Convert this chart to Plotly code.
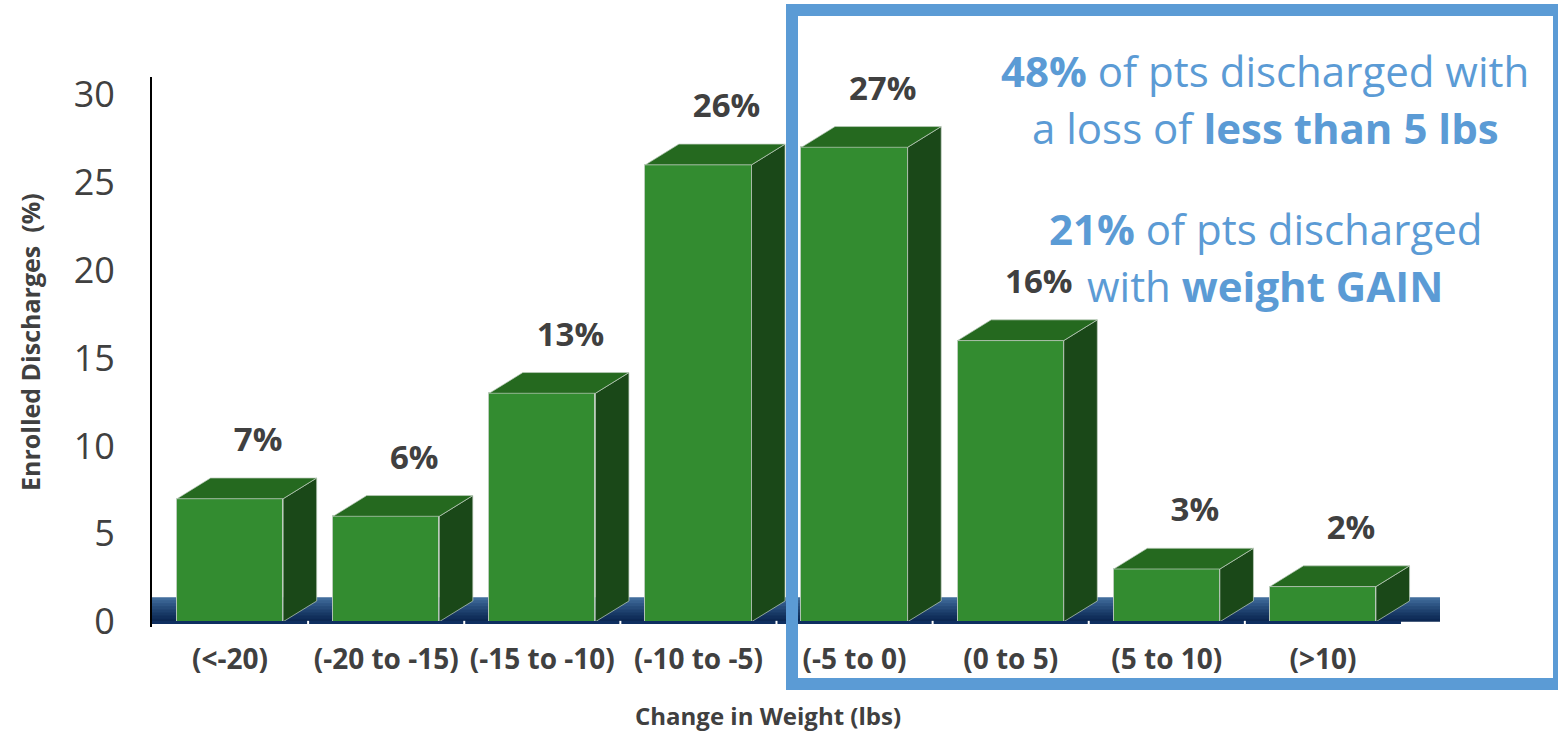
import plotly.graph_objects as go

# ---- data -------------------------------------------------------------
categories = ["(<-20)", "(-20 to -15)", "(-15 to -10)", "(-10 to -5)",
              "(-5 to 0)", "(0 to 5)", "(5 to 10)", "(>10)"]
pct_discharges = [7, 6, 13, 26, 27, 16, 3, 2]
y_ticks = [0, 5, 10, 15, 20, 25, 30]

# ---- geometry / style -------------------------------------------------
W, H = 1558, 736
PL, PR, PT, PB = 152, 1440, 77, 627          # plot area in pixels
X_RANGE = [-0.5, 7.75]
Y_RANGE = [-0.3, 31.0]
HALF_W = 0.34          # half width of the front face (category units)
DX, DY = 0.215, 1.18   # 3-D depth offset (x in categories, y in %)

FRONT = "#338C30"
TOP = "#25691F"
SIDE = "#1A4818"
EDGE = "rgba(190,205,190,0.9)"
TEXT = "#404040"
ACCENT = "#5B9BD5"
FONT = "Open Sans"


def px_x(px):
    return (px - PL) / (PR - PL)


def px_y(py):
    return (PB - py) / (PB - PT)


idx = list(range(len(categories)))
fig = go.Figure()

# front faces
fig.add_trace(go.Bar(
    x=idx, y=pct_discharges, width=2 * HALF_W,
    marker=dict(color=FRONT, line=dict(color=EDGE, width=1)),
    hoverinfo="skip", showlegend=False,
))

# side and top faces for the 3-D look
for i, v in zip(idx, pct_discharges):
    xl, xr = i - HALF_W, i + HALF_W
    fig.add_trace(go.Scatter(
        x=[xr, xr + DX, xr + DX, xr, xr],
        y=[0, DY, v + DY, v, 0],
        fill="toself", fillcolor=SIDE, mode="lines",
        line=dict(color=EDGE, width=0.8),
        hoverinfo="skip", showlegend=False,
    ))
    fig.add_trace(go.Scatter(
        x=[xl, xl + DX, xr + DX, xr, xl],
        y=[v, v + DY, v + DY, v, v],
        fill="toself", fillcolor=TOP, mode="lines",
        line=dict(color=EDGE, width=0.8),
        hoverinfo="skip", showlegend=False,
    ))

# value labels above each bar
fig.add_trace(go.Scatter(
    x=[i + 0.18 for i in idx],
    y=[v + DY + 2.0 for v in pct_discharges],
    text=[f"{v}%" for v in pct_discharges],
    mode="text",
    textfont=dict(family=FONT, size=33, color=TEXT, weight="bold"),
    cliponaxis=False, hoverinfo="skip", showlegend=False,
))

shapes = []
# floor slab with a vertical gradient (bands overlap to avoid seams)
floor_cols = ["#416c9b", "#37608f", "#2e5584", "#264b79", "#1e416e",
              "#173864", "#112f5b", "#0c2853"]
floor_top = 1.4
n = len(floor_cols)
step = floor_top / n
for k, c in enumerate(floor_cols):
    y1 = floor_top - k * step
    y0 = max(0.0, y1 - step * 1.6)
    shapes.append(dict(type="rect", xref="x", yref="y", x0=-0.5, x1=7.75,
                       y0=y0, y1=y1, fillcolor=c, line=dict(width=0),
                       layer="below"))
# baseline under the floor with category separators
shapes.append(dict(type="line", xref="x", yref="y", x0=-0.5, x1=7.5,
                   y0=-0.05, y1=-0.05, line=dict(color="#0F2F60", width=3)))
for b in range(len(categories) - 1):
    shapes.append(dict(type="line", xref="x", yref="y", x0=b + 0.5, x1=b + 0.5,
                       y0=-0.3, y1=0.05, line=dict(color="white", width=2)))
# highlight box
shapes.append(dict(type="rect", xref="paper", yref="paper",
                   x0=px_x(792), x1=px_x(1559), y0=px_y(684), y1=px_y(10),
                   line=dict(color=ACCENT, width=12), fillcolor="rgba(0,0,0,0)",
                   layer="above"))

annotations = []
box_lines = [
    ("<b>48%</b> of pts discharged with", 70),
    ("a loss of <b>less than 5 lbs</b>", 127),
    ("<b>21%</b> of pts discharged", 228),
    ("with <b>weight GAIN</b>", 285),
]
for txt, py in box_lines:
    annotations.append(dict(
        text=txt, xref="paper", yref="paper", x=px_x(1265), y=px_y(py),
        xanchor="center", yanchor="middle", showarrow=False,
        font=dict(family=FONT, size=42, color=ACCENT),
    ))

annotations.append(dict(
    text="<b>Enrolled Discharges\u00a0\u00a0(%)</b>", xref="paper", yref="paper",
    x=px_x(30), y=px_y(342), xanchor="center", yanchor="middle",
    textangle=-90, showarrow=False,
    font=dict(family=FONT, size=25, color=TEXT),
))
annotations.append(dict(
    text="<b>Change in Weight (lbs)</b>", xref="paper", yref="paper",
    x=px_x(768), y=px_y(715), xanchor="center", yanchor="middle",
    showarrow=False, font=dict(family=FONT, size=24, color=TEXT),
))

fig.update_layout(
    width=W, height=H,
    margin=dict(l=PL, r=W - PR, t=PT, b=H - PB, pad=0),
    paper_bgcolor="white", plot_bgcolor="white",
    bargap=0, shapes=shapes, annotations=annotations,
    xaxis=dict(range=X_RANGE, tickmode="array", tickvals=idx,
               ticktext=categories, showgrid=False, zeroline=False,
               showline=False, ticks="", ticklabelstandoff=13,
               tickfont=dict(family=FONT, size=28, color=TEXT, weight="bold")),
    yaxis=dict(range=Y_RANGE, tickmode="array", tickvals=y_ticks,
               showgrid=False, zeroline=False, showline=True,
               linecolor="black", linewidth=2, ticks="",
               ticklabelstandoff=28,
               tickfont=dict(family=FONT, size=36, color=TEXT)),
)

fig.write_html("out.html")
